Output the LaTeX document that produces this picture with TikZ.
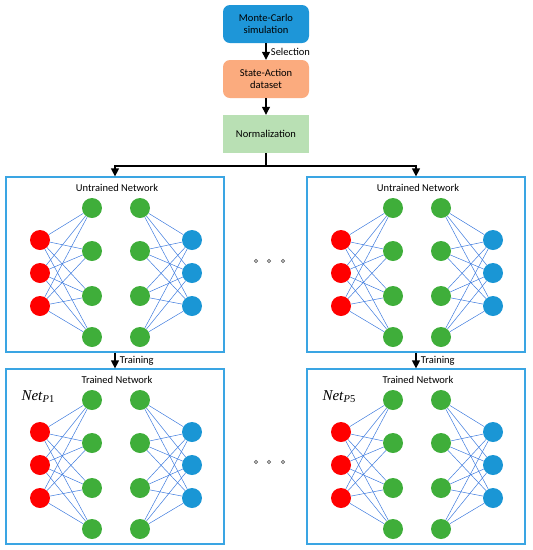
\documentclass[tikz,border=0pt]{standalone}
\usepackage{fontspec}
\setmainfont{Carlito}
\newfontfamily\timesfont{Liberation Serif}
\usetikzlibrary{arrows.meta}

\definecolor{mcblue}{HTML}{1E96D8}
\definecolor{saorange}{HTML}{FBAB7E}
\definecolor{normgreen}{HTML}{B9E0B4}
\definecolor{nodered}{HTML}{FF0000}
\definecolor{nodegreen}{HTML}{3FAE3A}
\definecolor{nodeblue}{HTML}{1A96D5}
\definecolor{edgeblue}{HTML}{3E7BDE}
\definecolor{boxblue}{HTML}{3AA5E3}

\tikzset{
  txt/.style={font=\fontsize{10.5}{12}\selectfont},
  flowbox/.style={txt, minimum width=86pt, minimum height=38pt, align=center, inner sep=0pt},
  neuron/.style={circle, minimum size=20pt, inner sep=0pt},
  edge/.style={draw=edgeblue, line width=0.5pt},
  netbox/.style={draw=boxblue, line width=1.2pt, minimum width=218pt, minimum height=175pt, inner sep=0pt},
  arr/.style={-{Triangle[width=8pt,length=8pt]}, line width=1.2pt},
  netlabel/.style={anchor=west, font=\timesfont\fontsize{15}{15}\selectfont},
  netpic/.pic={
    \node[netbox] (box) at (109,87.5) {};
    \node[txt] (title) at (111,11) {#1};
    \foreach \i/\y in {1/63,2/96,3/129} {
      \node[neuron, fill=nodered] (r\i) at (34,\y) {};
      \node[neuron, fill=nodeblue] (b\i) at (186,\y) {};
    }
    \foreach \j/\y in {1/31,2/74,3/119,4/160} {
      \node[neuron, fill=nodegreen] (g\j) at (86,\y) {};
      \node[neuron, fill=nodegreen] (h\j) at (134,\y) {};
    }
    \foreach \i in {1,2,3} \foreach \j in {1,...,4} {
      \draw[edge] (r\i) -- (g\j);
      \draw[edge] (h\j) -- (b\i);
    }
  }
}

\begin{document}
\begin{tikzpicture}[x=1pt, y=-1pt]
\useasboundingbox (0,0) rectangle (533,550);

% flow at the top
\node[flowbox, fill=mcblue, rounded corners=7pt] (mc) at (266,24) {Monte-Carlo\\simulation};
\node[flowbox, fill=saorange, rounded corners=7pt] (sa) at (266,79) {State-Action\\dataset};
\node[flowbox, fill=normgreen] (norm) at (266,134) {Normalization};
\coordinate (split) at (266,166);

% networks
\pic (L1) at (6,177) {netpic={Untrained Network}};
\pic (R1) at (307,177) {netpic={Untrained Network}};
\pic (L2) at (6,369) {netpic={Trained Network}};
\pic (R2) at (307,369) {netpic={Trained Network}};

\node[netlabel] (L2lab) at (18,397) {\textit{Net}\textsubscript{\textit{P}1}};
\node[netlabel] (R2lab) at (319,397) {\textit{Net}\textsubscript{\textit{P}5}};

% connectors
\draw[arr] (mc) -- (sa) node[midway, right, txt, xshift=1pt] {Selection};
\draw[arr] (sa) -- (norm);
\draw[line width=1.2pt] (norm) -- (split);
\draw[arr] (split) -| (L1box.north);
\draw[arr] (split) -| (R1box.north);
\draw[arr] (L1box.south) -- (L2box.north) node[midway, right, txt, xshift=1pt] {Training};
\draw[arr] (R1box.south) -- (R2box.north) node[midway, right, txt, xshift=1pt] {Training};

% dots between the networks
\foreach \x in {256,269,283} {
  \draw[gray!70!black, line width=0.6pt] (\x,261) circle (1.6pt);
  \draw[gray!70!black, line width=0.6pt] (\x,462) circle (1.6pt);
}
\end{tikzpicture}
\end{document}
